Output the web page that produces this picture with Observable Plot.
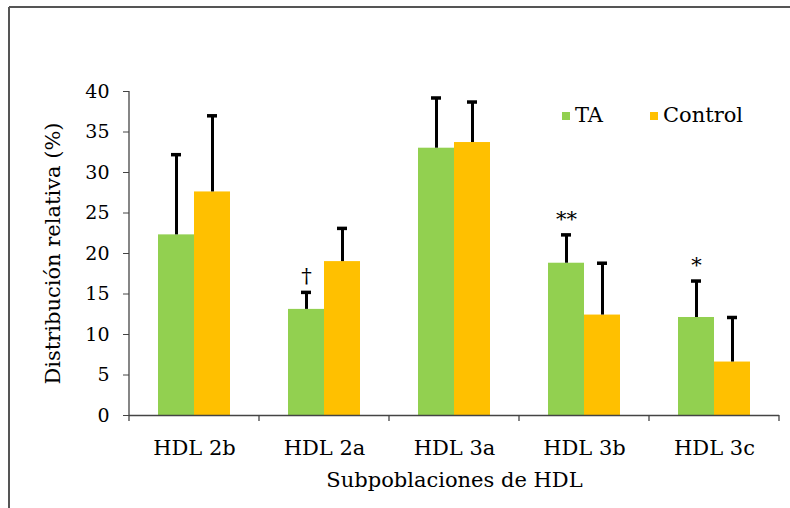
<!DOCTYPE html>
<html>
<head>
<meta charset="utf-8">
<script src="https://cdn.jsdelivr.net/npm/d3@7"></script>
<script src="https://cdn.jsdelivr.net/npm/@observablehq/plot@0.6"></script>
<style>
  html, body { margin: 0; padding: 0; background: #fff; }
  #chart svg { display: block; }
  #chart g[aria-label="y-axis tick label"] { font-size: 19px; }
</style>
</head>
<body>
<div id="chart"></div>
<script>
const categories = ["HDL 2b", "HDL 2a", "HDL 3a", "HDL 3b", "HDL 3c"];
const series = ["TA", "Control"];
const taMean = [22.3, 13.1, 33.0, 18.8, 12.1];
const taSD = [9.9, 2.1, 6.2, 3.5, 4.5];
const controlMean = [27.6, 19.0, 33.7, 12.4, 6.6];
const controlSD = [9.4, 4.1, 5.0, 6.4, 5.5];
const significance = ["", "†", "", "**", "*"];
const yTicks = [0, 5, 10, 15, 20, 25, 30, 35, 40];
const colors = ["#92D050", "#FFC000"];

const rows = [];
categories.forEach((c, i) => {
  rows.push({category: c, series: "TA", value: taMean[i], sd: taSD[i], sig: significance[i]});
  rows.push({category: c, series: "Control", value: controlMean[i], sd: controlSD[i], sig: ""});
});

const font = "'DejaVu Serif', serif";

const chart = Plot.plot({
  width: 790,
  height: 508,
  marginLeft: 127,
  marginRight: 9,
  marginTop: 91,
  marginBottom: 93,
  style: {fontFamily: font, fontSize: "21px", background: "white", color: "#000"},
  fx: {domain: categories, padding: 0},
  x: {domain: series, paddingInner: 0, paddingOuter: 0.77, axis: null},
  y: {domain: [0, 40]},
  color: {domain: series, range: colors},
  marks: [
    Plot.axisY(yTicks, {tickSize: 6, tickPadding: 14, stroke: "#444", label: "Distribución relativa (%)", labelAnchor: "center", labelOffset: 84, labelArrow: "none"}),
    Plot.axisFx({anchor: "bottom", tickSize: 0, tickPadding: 25, label: "Subpoblaciones de HDL", labelAnchor: "center", labelOffset: 71, labelArrow: "none"}),
    Plot.barY(rows, {fx: "category", x: "series", y: "value", fill: "series"}),
    Plot.ruleY([0], {stroke: "#444", strokeWidth: 1.3}),
    Plot.ruleX(rows, {fx: "category", x: "series", y1: "value", y2: d => d.value + d.sd, stroke: "#000", strokeWidth: 3}),
    Plot.tickY(rows, {fx: "category", x: "series", y: d => d.value + d.sd, stroke: "#000", strokeWidth: 3.5, insetLeft: 13, insetRight: 13}),
    Plot.text(rows.filter(d => d.sig), {fx: "category", x: "series", y: d => d.value + d.sd, text: "sig", dy: -16, fontSize: 21, fill: "#000"})
  ]
});

document.getElementById("chart").appendChild(chart);

// Overlay: y-axis line, category boundary ticks, legend, outer frame
const svg = d3.select(chart);
const fx = chart.scale("fx");
const y = chart.scale("y");
const step = fx.step;
const y0 = y.apply(0), yTop = y.apply(40);
const left = fx.apply(categories[0]);
const g = svg.append("g").attr("stroke", "#444").attr("stroke-width", 1.3);
g.append("line").attr("x1", left).attr("x2", left).attr("y1", yTop).attr("y2", y0);
const bounds = categories.map(c => fx.apply(c)).concat([fx.apply(categories[categories.length - 1]) + step]);
bounds.forEach(bx => g.append("line").attr("x1", bx).attr("x2", bx).attr("y1", y0).attr("y2", y0 + 6));

// legend
const lg = svg.append("g").attr("font-family", font).attr("font-size", 21).attr("text-anchor", "start");
const legendItems = [{label: series[0], x: 562}, {label: series[1], x: 650}];
legendItems.forEach((it, i) => {
  lg.append("rect").attr("x", it.x).attr("y", 112).attr("width", 8).attr("height", 8).attr("fill", colors[i]);
  lg.append("text").attr("x", it.x + 13).attr("y", 122).attr("fill", "#000").text(it.label);
});

// outer frame (left and top edges visible)
const fr = svg.append("g").attr("stroke", "#555").attr("stroke-width", 2).attr("fill", "none");
fr.append("line").attr("x1", 9).attr("x2", 9).attr("y1", 7).attr("y2", 508);
fr.append("line").attr("x1", 9).attr("x2", 790).attr("y1", 7).attr("y2", 7);
</script>
</body>
</html>
